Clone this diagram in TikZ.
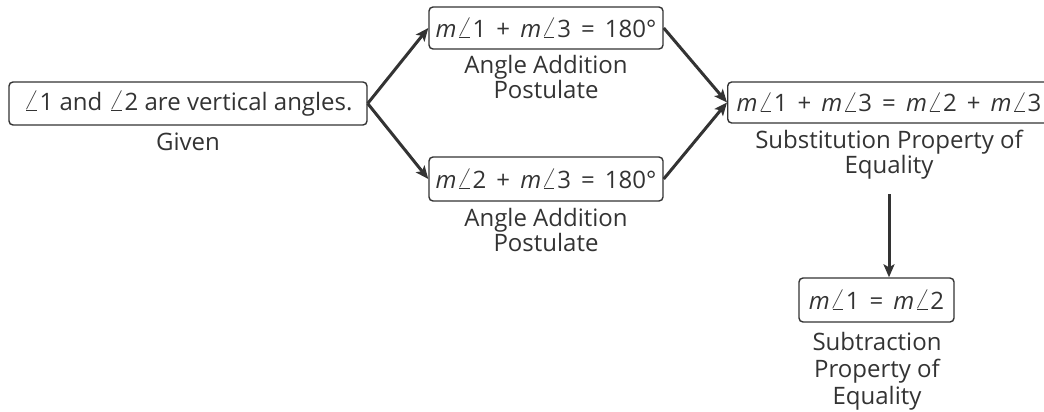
\documentclass[tikz,border=0pt]{standalone}
\usepackage{fontspec}
\setmainfont{Open Sans}
\usetikzlibrary{arrows.meta}
\definecolor{ink}{HTML}{333333}
\newcommand{\ang}{\ensuremath{\mathord{\scalebox{1.2}{$\angle$}}}}
\newcommand{\mm}{\textit{m}}
\newcommand{\op}[1]{\hspace{0.42em}#1\hspace{0.42em}}
\begin{document}
\begin{tikzpicture}[x=1pt,y=-1pt,
  font=\fontsize{24}{25}\selectfont,
  every node/.style={text=ink},
  box/.style={draw=ink, line width=1.4pt, rounded corners=4pt, inner sep=0pt},
  lbl/.style={align=center, inner sep=0pt},
  arr/.style={draw=ink, line width=3pt, -{Stealth[length=13pt,width=11pt,inset=3pt]}}]
\useasboundingbox (0,0) rectangle (1044,412);
\node[box, minimum width=358pt, minimum height=43pt] (g) at (188,103.5) {\ang1 and \ang2 are vertical angles.};
\node[lbl] (gl) at (188,142) {Given};
\node[box, minimum width=234pt, minimum height=42pt] (t) at (546,28) {\mm\ang1\op{+}\mm\ang3\op{=}180°};
\node[lbl] (tl) at (546,77) {Angle Addition\\Postulate};
\node[box, minimum width=234pt, minimum height=44pt] (b) at (546,179) {\mm\ang2\op{+}\mm\ang3\op{=}180°};
\node[lbl] (bl) at (546,230) {Angle Addition\\Postulate};
\node[box, minimum height=41pt, anchor=west, inner xsep=9pt] (s) at (727,102.5) {\mm\ang1\op{+}\mm\ang3\op{=}\mm\ang2\op{+}\mm\ang3\hspace{2pt}};
\node[lbl] (sl) at (889,155) {Substitution Property of\\Equality};
\node[box, minimum width=155pt, minimum height=44pt] (r) at (876.5,300) {\mm\ang1\op{=}\mm\ang2};
\node[lbl, font=\fontsize{24}{27}\selectfont] (rl) at (877,371) {Subtraction\\Property of\\Equality};
\coordinate (d1) at (889,194);
\draw[arr] (g.east) -- (t.west);
\draw[arr] (g.east) -- (b.west);
\draw[arr] (t.east) -- (s.west);
\draw[arr] (b.east) -- (s.west);
\draw[arr] (d1) -- (d1 |- r.north);
\end{tikzpicture}
\end{document}
